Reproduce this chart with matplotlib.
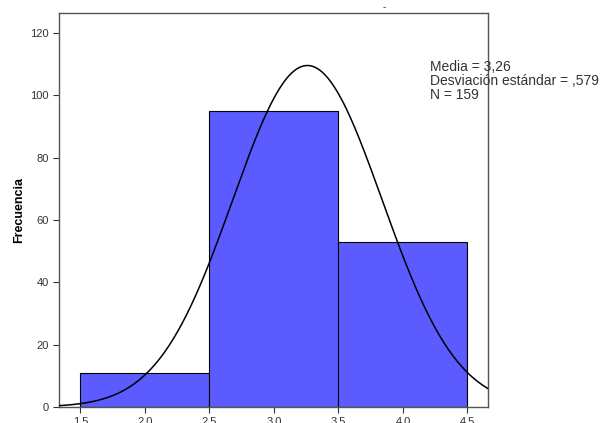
import numpy as np
import matplotlib
matplotlib.use("Agg")
import matplotlib.pyplot as plt

plt.rcParams['font.family'] = ['Liberation Sans', 'DejaVu Sans']

# datos del histograma
bin_edges = [1.5, 2.5, 3.5, 4.5]
counts = [11, 95, 53]
media = 3.26
desv = 0.579
n = 159
xticks = [1.5, 2.0, 2.5, 3.0, 3.5, 4.0, 4.5]
yticks = [0, 20, 40, 60, 80, 100, 120]

fig = plt.figure(figsize=(6.16, 4.23), dpi=100)
ax = fig.add_axes([0.0963, 0.0378, 0.6966, 0.9315])

ax.bar(bin_edges[:-1], counts, width=np.diff(bin_edges), align='edge',
       color='#5b5bff', edgecolor='black', linewidth=0.8, zorder=2)

# curva normal
xs = np.linspace(1.3, 4.7, 400)
binw = bin_edges[1] - bin_edges[0]
ys = n * binw / (desv * np.sqrt(2 * np.pi)) * np.exp(-0.5 * ((xs - media) / desv) ** 2)
ax.plot(xs, ys, color='black', linewidth=1.1, zorder=3)

ax.set_xlim(1.337, 4.663)
ax.set_ylim(0, 126.4)
ax.set_xticks(xticks)
ax.set_xticklabels([f'{t:.1f}' for t in xticks])
ax.set_yticks(yticks)
ax.tick_params(labelsize=8, colors='#333333', length=4, width=0.8)
ax.set_ylabel('Frecuencia', fontsize=9, fontweight='bold')
ax.yaxis.set_label_coords(-0.08, 0.5)
for s in ax.spines.values():
    s.set_color('#555555')
    s.set_linewidth(1.0)

fig.text(0.698, 0.857, 'Media = 3,26\nDesviación estándar = ,579\nN = 159',
         fontsize=10, color='#333333', va='top', ha='left', linespacing=1.0)
fig.text(0.623, 0.983, '-', fontsize=7, ha='center', va='center', color='#333333')

fig.savefig('out.png', dpi=100)
